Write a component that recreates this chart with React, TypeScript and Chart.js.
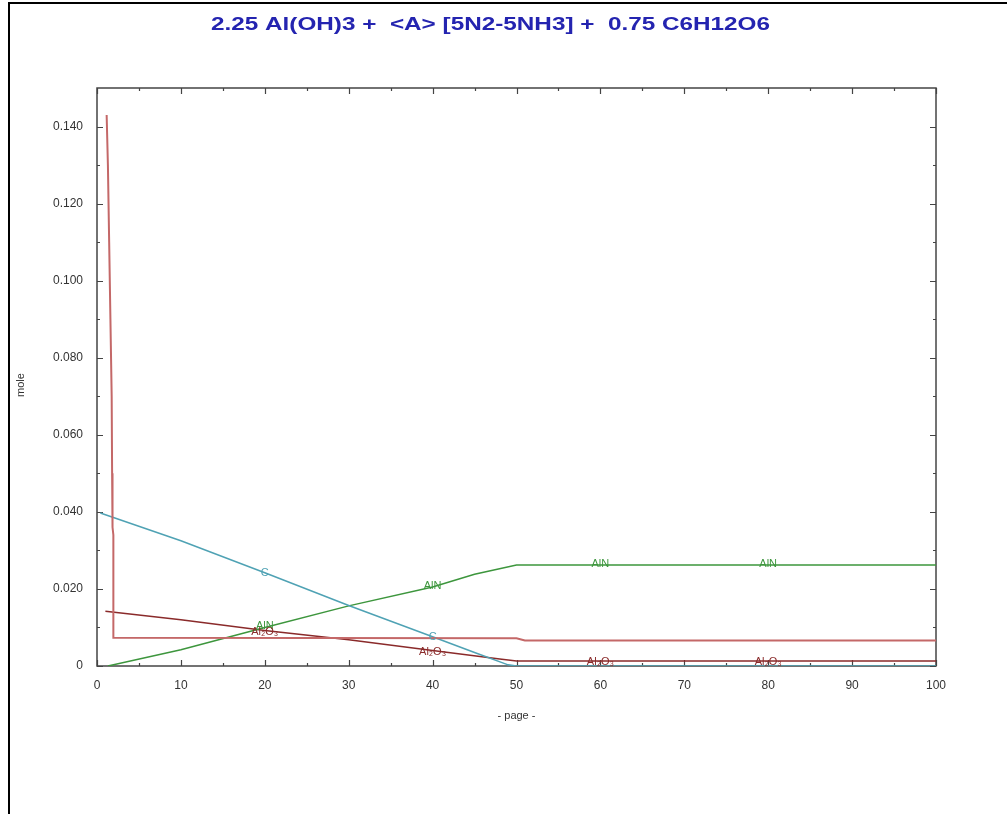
import React, { useEffect, useRef } from "react";
import { Chart, registerables } from "chart.js";

Chart.register(...registerables);

// ---- data ----
const titleText = "2.25 Al(OH)3 +  <A> [5N2-5NH3] +  0.75 C6H12O6";
const xTitle = "- page -";
const yTitle = "mole";

const pinkPage = [1.15, 1.3, 1.45, 1.6, 1.75, 1.8, 1.85, 1.95, 1.95, 50, 51, 100];
const pinkMole = [0.143, 0.13, 0.11, 0.09, 0.07, 0.05, 0.036, 0.034, 0.0073, 0.0072, 0.0066, 0.0066];

const cPage = [0.4, 10, 20, 30, 40, 45, 49, 50, 100];
const cMole = [0.0397, 0.0325, 0.0242, 0.0157, 0.0076, 0.0035, 0.0003, 0, 0];

const alnPage = [1.3, 10, 20, 30, 40, 45, 50, 100];
const alnMole = [0, 0.0042, 0.01, 0.0156, 0.0205, 0.0238, 0.0262, 0.0262];

const al2o3Page = [1, 10, 20, 30, 40, 48, 50, 100];
const al2o3Mole = [0.0142, 0.012, 0.0092, 0.0068, 0.004, 0.0018, 0.0013, 0.0013];

const cLabelPages = [20, 40];
const alnLabelPages = [20, 40, 60, 80];
const al2o3LabelPages = [20, 40, 60, 80];

const seriesNames = ["N2", "C", "AlN", "Al₂O₃"];
const seriesColors = ["#c46868", "#4fa2b4", "#3d963d", "#8a2a2a"];

const toPoints = (xs: number[], ys: number[]) => xs.map((x, i) => ({ x, y: ys[i] }));

function interp(xs: number[], ys: number[], x: number) {
  for (let i = 0; i < xs.length - 1; i++) {
    if (x >= xs[i] && x <= xs[i + 1]) {
      const t = xs[i + 1] === xs[i] ? 0 : (x - xs[i]) / (xs[i + 1] - xs[i]);
      return ys[i] + t * (ys[i + 1] - ys[i]);
    }
  }
  return ys[ys.length - 1];
}

const decorPlugin = {
  id: "decor",
  beforeDatasetsDraw(chart: any) {
    const ctx = chart.ctx as CanvasRenderingContext2D;
    const { left, right, top, bottom } = chart.chartArea;
    const xs = chart.scales.x;
    const ys = chart.scales.y;
    ctx.save();
    // plot frame
    ctx.strokeStyle = "#444";
    ctx.lineWidth = 1.5;
    ctx.strokeRect(left, top, right - left, bottom - top);

    // inward ticks
    ctx.lineWidth = 1.2;
    ctx.beginPath();
    for (let v = 0; v <= 100; v += 5) {
      const px = Math.round(xs.getPixelForValue(v)) + 0.5;
      const len = v % 10 === 0 ? 6 : 3;
      ctx.moveTo(px, bottom);
      ctx.lineTo(px, bottom - len);
      ctx.moveTo(px, top);
      ctx.lineTo(px, top + len);
    }
    for (let k = 0; k <= 14; k++) {
      const v = k * 0.01;
      const py = Math.round(ys.getPixelForValue(v)) + 0.5;
      const len = k % 2 === 0 ? 6 : 3;
      ctx.moveTo(left, py);
      ctx.lineTo(left + len, py);
      ctx.moveTo(right, py);
      ctx.lineTo(right - len, py);
    }
    ctx.stroke();
    ctx.restore();
  },
  afterDraw(chart: any) {
    const ctx = chart.ctx as CanvasRenderingContext2D;
    const { left, right } = chart.chartArea;
    const xs = chart.scales.x;
    const ys = chart.scales.y;
    ctx.save();

    // page frame (left + top)
    ctx.strokeStyle = "#000";
    ctx.lineWidth = 2;
    ctx.beginPath();
    ctx.moveTo(9, 814);
    ctx.lineTo(9, 3);
    ctx.lineTo(1007, 3);
    ctx.stroke();

    // title
    ctx.fillStyle = "#2424b0";
    ctx.font = 'bold 18px "Liberation Sans", Arial, sans-serif';
    ctx.textBaseline = "alphabetic";
    ctx.textAlign = "left";
    const w = ctx.measureText(titleText).width;
    const targetW = 559;
    ctx.save();
    ctx.translate(211, 30);
    ctx.scale(targetW / w, 1);
    ctx.fillText(titleText, 0, 0);
    ctx.restore();

    // axis titles
    ctx.fillStyle = "#333";
    ctx.font = '11px "Liberation Sans", Arial, sans-serif';
    ctx.textAlign = "center";
    ctx.textBaseline = "middle";
    ctx.fillText(xTitle, (left + right) / 2, 716);
    ctx.save();
    ctx.translate(21, 385);
    ctx.rotate(-Math.PI / 2);
    ctx.fillText(yTitle, 0, 0);
    ctx.restore();

    // line labels
    ctx.font = '11px "Liberation Sans", Arial, sans-serif';
    const drawLabels = (pages: number[], px: number[], py: number[], text: string, color: string, dy: number) => {
      ctx.fillStyle = color;
      pages.forEach((p) => {
        const x = xs.getPixelForValue(p);
        const y = ys.getPixelForValue(interp(px, py, p));
        ctx.fillText(text, x, y + dy);
      });
    };
    drawLabels(cLabelPages, cPage, cMole, seriesNames[1], seriesColors[1], 0);
    drawLabels(alnLabelPages, alnPage, alnMole, seriesNames[2], seriesColors[2], -1);
    drawLabels(al2o3LabelPages, al2o3Page, al2o3Mole, seriesNames[3], seriesColors[3], 1);

    ctx.restore();
  },
};

export default function App() {
  const ref = useRef<HTMLCanvasElement | null>(null);
  useEffect(() => {
    if (!ref.current) return;
    const mk = (label: string, xs: number[], ys: number[], color: string, width: number) => ({
      label,
      data: toPoints(xs, ys),
      borderColor: color,
      backgroundColor: color,
      borderWidth: width,
      pointRadius: 0,
      tension: 0,
      fill: false,
    });
    const chart = new Chart(ref.current, {
      type: "line",
      data: {
        datasets: [
          mk(seriesNames[0], pinkPage, pinkMole, seriesColors[0], 2),
          mk(seriesNames[1], cPage, cMole, seriesColors[1], 1.5),
          mk(seriesNames[2], alnPage, alnMole, seriesColors[2], 1.5),
          mk(seriesNames[3], al2o3Page, al2o3Mole, seriesColors[3], 1.5),
        ],
      },
      options: {
        animation: false,
        responsive: false,
        maintainAspectRatio: false,
        layout: { padding: { left: 0, top: 88, right: 71, bottom: 0 } },
        plugins: { legend: { display: false }, title: { display: false }, tooltip: { enabled: false } },
        scales: {
          x: {
            type: "linear",
            min: 0,
            max: 100,
            grid: { display: false, drawTicks: false },
            border: { display: false },
            ticks: {
              stepSize: 10,
              padding: 12,
              color: "#333",
              maxRotation: 0,
              font: { family: '"Liberation Sans", Arial, sans-serif', size: 12 },
            },
            afterFit: (s: any) => {
              s.height = 148;
            },
          },
          y: {
            type: "linear",
            min: 0,
            max: 0.15,
            grid: { display: false, drawTicks: false },
            border: { display: false },
            ticks: {
              stepSize: 0.02,
              padding: 14,
              color: "#333",
              font: { family: '"Liberation Sans", Arial, sans-serif', size: 12 },
              callback: (v: any) => {
                const n = Number(v);
                if (n > 0.1405) return "";
                return n === 0 ? "0" : n.toFixed(3);
              },
            },
            afterFit: (s: any) => {
              s.width = 97;
            },
          },
        },
      },
      plugins: [decorPlugin],
    });
    return () => chart.destroy();
  }, []);
  return (
    <div style={{ position: "absolute", left: 0, top: 0, width: 1007, height: 814, background: "#fff" }}>
      <canvas ref={ref} width={1007} height={814} style={{ width: 1007, height: 814, display: "block" }} />
    </div>
  );
}
